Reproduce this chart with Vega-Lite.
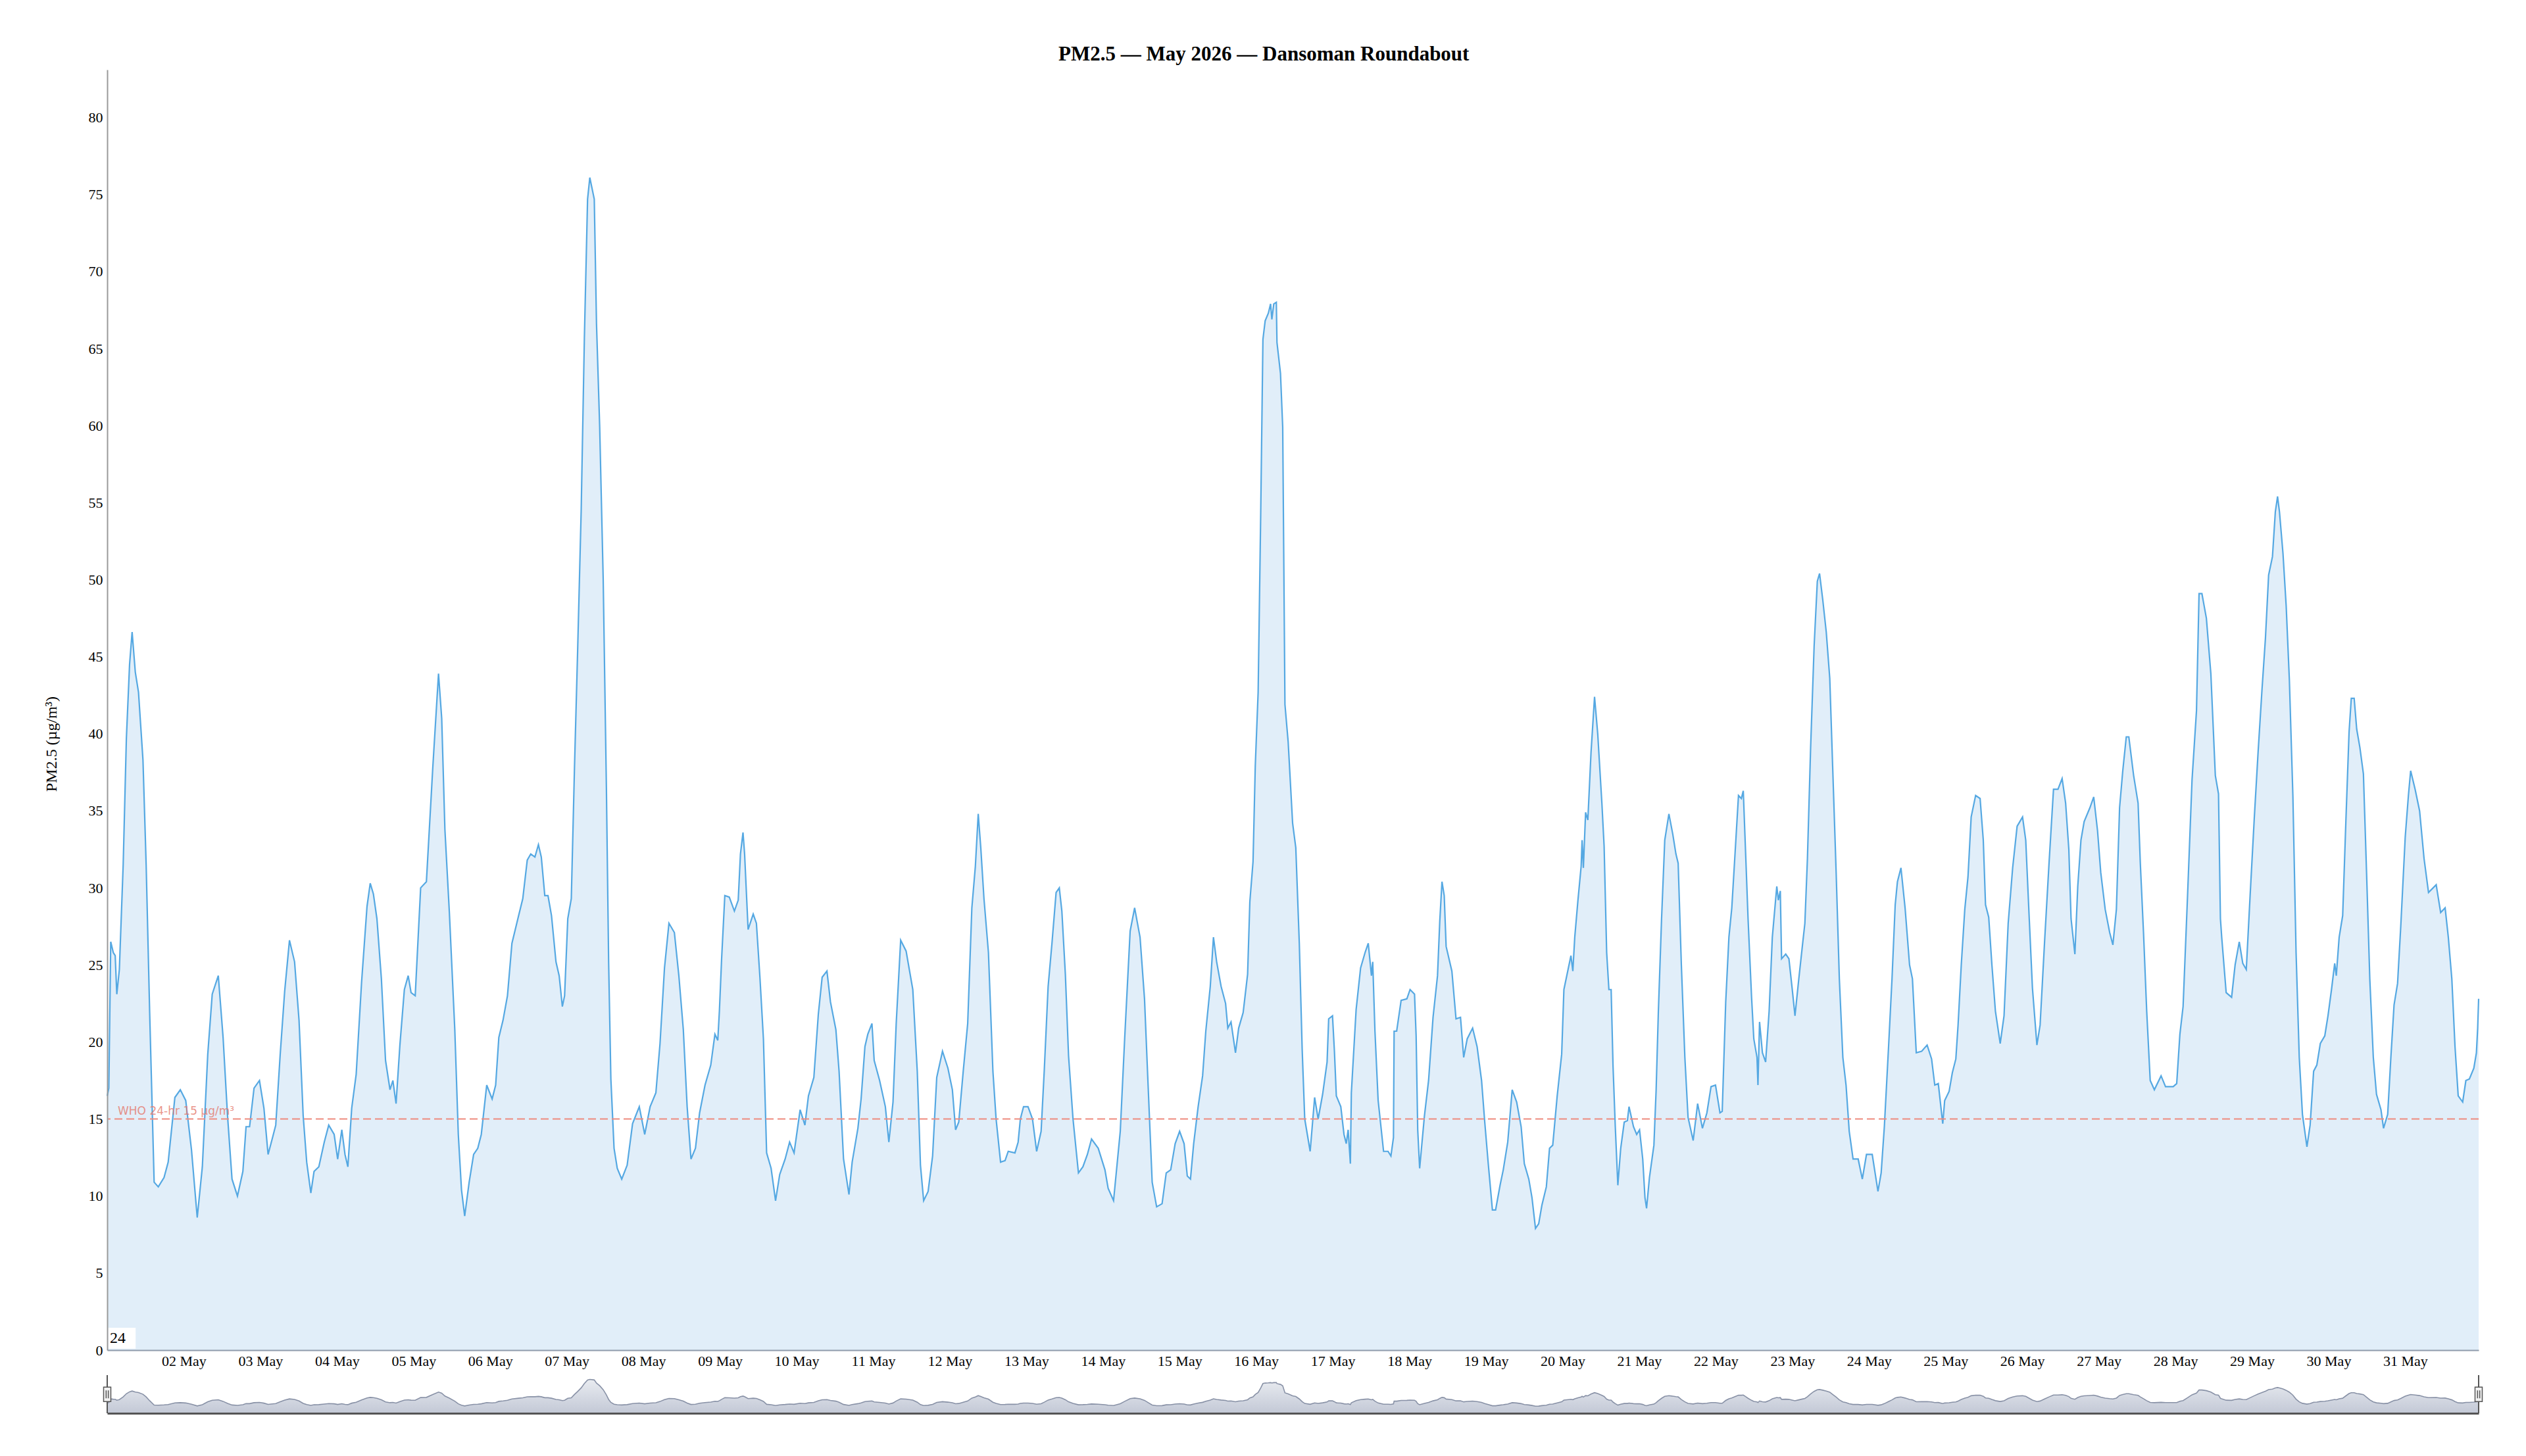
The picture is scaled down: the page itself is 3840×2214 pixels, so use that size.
{
  "$schema": "https://vega.github.io/schema/vega-lite/v6.json",
  "padding": {"left": 66, "top": 67, "right": 70, "bottom": 40},
  "title": {
    "text": "PM2.5 — May 2026 — Dansoman Roundabout",
    "font": "Liberation Serif",
    "fontSize": 31,
    "fontWeight": "bold",
    "color": "#000",
    "anchor": "middle",
    "offset": 7
  },
  "spacing": 10,
  "datasets": {
    "pm": [
      {"t":"2026-05-01T00:00","v":16.5},{"t":"2026-05-01T00:30","v":17.0},{"t":"2026-05-01T01:06","v":26.5},{"t":"2026-05-01T01:54","v":25.8},
      {"t":"2026-05-01T02:30","v":25.6},{"t":"2026-05-01T03:00","v":23.1},{"t":"2026-05-01T03:48","v":24.7},{"t":"2026-05-01T05:00","v":31.5},
      {"t":"2026-05-01T06:00","v":39.7},{"t":"2026-05-01T07:00","v":44.5},{"t":"2026-05-01T07:48","v":46.6},{"t":"2026-05-01T08:48","v":44.0},
      {"t":"2026-05-01T09:48","v":42.7},{"t":"2026-05-01T11:12","v":38.3},{"t":"2026-05-01T12:12","v":31.5},{"t":"2026-05-01T13:18","v":21.9},
      {"t":"2026-05-01T14:42","v":10.9},{"t":"2026-05-01T16:00","v":10.6},{"t":"2026-05-01T17:48","v":11.2},{"t":"2026-05-01T19:06","v":12.2},
      {"t":"2026-05-01T21:12","v":16.4},{"t":"2026-05-01T22:54","v":16.9},{"t":"2026-05-02T00:36","v":16.2},{"t":"2026-05-02T02:24","v":13.0},
      {"t":"2026-05-02T04:12","v":8.6},{"t":"2026-05-02T05:48","v":11.9},{"t":"2026-05-02T07:30","v":19.2},{"t":"2026-05-02T08:54","v":23.1},
      {"t":"2026-05-02T10:48","v":24.3},{"t":"2026-05-02T12:18","v":20.3},{"t":"2026-05-02T13:42","v":15.2},{"t":"2026-05-02T15:06","v":11.1},
      {"t":"2026-05-02T16:48","v":10.0},{"t":"2026-05-02T18:30","v":11.6},{"t":"2026-05-02T19:30","v":14.5},{"t":"2026-05-02T20:36","v":14.5},
      {"t":"2026-05-02T22:00","v":17.0},{"t":"2026-05-02T23:42","v":17.5},{"t":"2026-05-03T01:06","v":15.7},{"t":"2026-05-03T02:24","v":12.7},
      {"t":"2026-05-03T03:48","v":13.8},{"t":"2026-05-03T04:48","v":14.6},{"t":"2026-05-03T06:12","v":19.2},{"t":"2026-05-03T07:36","v":23.3},
      {"t":"2026-05-03T09:06","v":26.6},{"t":"2026-05-03T10:42","v":25.2},{"t":"2026-05-03T12:06","v":21.4},{"t":"2026-05-03T13:24","v":15.2},
      {"t":"2026-05-03T14:30","v":12.2},{"t":"2026-05-03T15:48","v":10.2},{"t":"2026-05-03T16:48","v":11.6},{"t":"2026-05-03T18:18","v":11.9},
      {"t":"2026-05-03T20:00","v":13.5},{"t":"2026-05-03T21:24","v":14.6},{"t":"2026-05-03T23:06","v":14.0},{"t":"2026-05-04T00:12","v":12.4},
      {"t":"2026-05-04T01:30","v":14.3},{"t":"2026-05-04T02:30","v":12.7},{"t":"2026-05-04T03:24","v":11.9},{"t":"2026-05-04T04:36","v":15.7},
      {"t":"2026-05-04T06:00","v":17.9},{"t":"2026-05-04T07:42","v":23.9},{"t":"2026-05-04T09:24","v":28.8},{"t":"2026-05-04T10:24","v":30.3},
      {"t":"2026-05-04T11:24","v":29.6},{"t":"2026-05-04T12:30","v":28.0},{"t":"2026-05-04T13:54","v":24.1},{"t":"2026-05-04T15:12","v":18.8},
      {"t":"2026-05-04T16:36","v":16.9},{"t":"2026-05-04T17:30","v":17.5},{"t":"2026-05-04T18:30","v":16.0},{"t":"2026-05-04T19:42","v":19.8},
      {"t":"2026-05-04T21:06","v":23.4},{"t":"2026-05-04T22:18","v":24.3},{"t":"2026-05-04T23:12","v":23.2},{"t":"2026-05-05T00:30","v":23.0},
      {"t":"2026-05-05T02:12","v":30.0},{"t":"2026-05-05T04:00","v":30.4},{"t":"2026-05-05T06:00","v":37.8},{"t":"2026-05-05T07:48","v":43.9},
      {"t":"2026-05-05T08:48","v":41.0},{"t":"2026-05-05T09:48","v":33.8},{"t":"2026-05-05T11:12","v":28.4},{"t":"2026-05-05T12:54","v":20.8},
      {"t":"2026-05-05T14:00","v":14.0},{"t":"2026-05-05T15:00","v":10.4},{"t":"2026-05-05T16:00","v":8.7},{"t":"2026-05-05T17:24","v":10.9},
      {"t":"2026-05-05T18:48","v":12.7},{"t":"2026-05-05T20:06","v":13.1},{"t":"2026-05-05T21:12","v":14.0},{"t":"2026-05-05T22:54","v":17.2},
      {"t":"2026-05-06T00:36","v":16.3},{"t":"2026-05-06T01:42","v":17.2},{"t":"2026-05-06T02:42","v":20.3},{"t":"2026-05-06T04:00","v":21.4},
      {"t":"2026-05-06T05:24","v":23.0},{"t":"2026-05-06T06:48","v":26.4},{"t":"2026-05-06T08:54","v":28.2},{"t":"2026-05-06T10:12","v":29.3},
      {"t":"2026-05-06T11:36","v":31.8},{"t":"2026-05-06T12:42","v":32.2},{"t":"2026-05-06T14:00","v":32.0},{"t":"2026-05-06T15:06","v":32.8},
      {"t":"2026-05-06T16:00","v":32.0},{"t":"2026-05-06T17:06","v":29.5},{"t":"2026-05-06T18:06","v":29.5},{"t":"2026-05-06T19:12","v":28.2},
      {"t":"2026-05-06T20:36","v":25.2},{"t":"2026-05-06T21:36","v":24.3},{"t":"2026-05-06T22:36","v":22.3},{"t":"2026-05-06T23:18","v":23.0},
      {"t":"2026-05-07T00:18","v":28.0},{"t":"2026-05-07T01:24","v":29.3},{"t":"2026-05-07T02:24","v":37.8},{"t":"2026-05-07T03:24","v":45.5},
      {"t":"2026-05-07T04:30","v":54.5},{"t":"2026-05-07T05:30","v":65.7},{"t":"2026-05-07T06:30","v":74.7},{"t":"2026-05-07T07:12","v":76.1},
      {"t":"2026-05-07T08:36","v":74.7},{"t":"2026-05-07T09:18","v":66.6},{"t":"2026-05-07T10:18","v":59.9},{"t":"2026-05-07T11:24","v":50.0},
      {"t":"2026-05-07T12:24","v":36.5},{"t":"2026-05-07T13:06","v":25.2},{"t":"2026-05-07T13:48","v":17.6},{"t":"2026-05-07T14:48","v":13.1},
      {"t":"2026-05-07T15:48","v":11.8},{"t":"2026-05-07T17:12","v":11.1},{"t":"2026-05-07T18:54","v":12.0},{"t":"2026-05-07T20:36","v":14.7},
      {"t":"2026-05-07T22:42","v":15.8},{"t":"2026-05-08T00:24","v":14.0},{"t":"2026-05-08T02:06","v":15.8},{"t":"2026-05-08T03:54","v":16.7},
      {"t":"2026-05-08T05:12","v":19.9},{"t":"2026-05-08T06:36","v":24.8},{"t":"2026-05-08T08:00","v":27.7},{"t":"2026-05-08T09:42","v":27.1},
      {"t":"2026-05-08T11:06","v":24.3},{"t":"2026-05-08T12:30","v":20.8},{"t":"2026-05-08T13:42","v":15.8},{"t":"2026-05-08T14:54","v":12.4},
      {"t":"2026-05-08T16:18","v":13.1},{"t":"2026-05-08T17:36","v":15.4},{"t":"2026-05-08T19:18","v":17.2},{"t":"2026-05-08T21:06","v":18.5},
      {"t":"2026-05-08T22:24","v":20.5},{"t":"2026-05-08T23:18","v":20.1},{"t":"2026-05-08T23:48","v":22.0},{"t":"2026-05-09T00:30","v":25.4},
      {"t":"2026-05-09T01:30","v":29.5},{"t":"2026-05-09T02:54","v":29.4},{"t":"2026-05-09T04:30","v":28.5},{"t":"2026-05-09T05:42","v":29.2},
      {"t":"2026-05-09T06:24","v":32.2},{"t":"2026-05-09T07:12","v":33.6},{"t":"2026-05-09T07:42","v":32.2},{"t":"2026-05-09T08:48","v":27.3},
      {"t":"2026-05-09T10:24","v":28.3},{"t":"2026-05-09T11:24","v":27.7},{"t":"2026-05-09T12:30","v":24.2},{"t":"2026-05-09T13:36","v":20.2},
      {"t":"2026-05-09T14:36","v":12.8},{"t":"2026-05-09T16:00","v":11.8},{"t":"2026-05-09T17:24","v":9.7},{"t":"2026-05-09T18:42","v":11.4},
      {"t":"2026-05-09T20:24","v":12.4},{"t":"2026-05-09T21:48","v":13.5},{"t":"2026-05-09T23:12","v":12.8},{"t":"2026-05-10T01:06","v":15.6},
      {"t":"2026-05-10T02:36","v":14.6},{"t":"2026-05-10T03:42","v":16.5},{"t":"2026-05-10T05:24","v":17.7},{"t":"2026-05-10T06:48","v":21.8},
      {"t":"2026-05-10T08:00","v":24.2},{"t":"2026-05-10T09:30","v":24.6},{"t":"2026-05-10T10:36","v":22.6},{"t":"2026-05-10T12:18","v":20.8},
      {"t":"2026-05-10T13:18","v":18.1},{"t":"2026-05-10T14:42","v":12.4},{"t":"2026-05-10T16:24","v":10.1},{"t":"2026-05-10T17:24","v":12.2},
      {"t":"2026-05-10T19:12","v":14.4},{"t":"2026-05-10T20:12","v":16.3},{"t":"2026-05-10T21:24","v":19.7},{"t":"2026-05-10T22:18","v":20.5},
      {"t":"2026-05-10T23:36","v":21.2},{"t":"2026-05-11T00:18","v":18.8},{"t":"2026-05-11T02:00","v":17.5},{"t":"2026-05-11T03:48","v":15.8},
      {"t":"2026-05-11T04:54","v":13.5},{"t":"2026-05-11T06:12","v":16.1},{"t":"2026-05-11T07:12","v":21.2},{"t":"2026-05-11T08:36","v":26.6},
      {"t":"2026-05-11T10:18","v":25.9},{"t":"2026-05-11T12:24","v":23.4},{"t":"2026-05-11T13:48","v":18.1},{"t":"2026-05-11T14:48","v":12.0},
      {"t":"2026-05-11T15:48","v":9.7},{"t":"2026-05-11T17:12","v":10.3},{"t":"2026-05-11T18:36","v":12.6},{"t":"2026-05-11T19:54","v":17.7},
      {"t":"2026-05-11T21:42","v":19.4},{"t":"2026-05-11T23:24","v":18.3},{"t":"2026-05-12T00:48","v":16.9},{"t":"2026-05-12T01:48","v":14.3},
      {"t":"2026-05-12T02:48","v":14.8},{"t":"2026-05-12T04:12","v":18.1},{"t":"2026-05-12T05:36","v":21.2},{"t":"2026-05-12T06:54","v":28.7},
      {"t":"2026-05-12T08:00","v":31.4},{"t":"2026-05-12T08:54","v":34.8},{"t":"2026-05-12T09:42","v":32.6},{"t":"2026-05-12T10:42","v":29.3},
      {"t":"2026-05-12T12:06","v":25.8},{"t":"2026-05-12T13:30","v":18.1},{"t":"2026-05-12T14:30","v":15.0},{"t":"2026-05-12T15:54","v":12.2},
      {"t":"2026-05-12T17:18","v":12.3},{"t":"2026-05-12T18:18","v":12.9},{"t":"2026-05-12T20:24","v":12.8},{"t":"2026-05-12T21:24","v":13.5},
      {"t":"2026-05-12T22:06","v":15.0},{"t":"2026-05-12T23:06","v":15.8},{"t":"2026-05-13T00:30","v":15.8},{"t":"2026-05-13T01:54","v":15.0},
      {"t":"2026-05-13T03:12","v":12.9},{"t":"2026-05-13T04:36","v":14.2},{"t":"2026-05-13T05:36","v":18.2},{"t":"2026-05-13T06:48","v":23.6},
      {"t":"2026-05-13T08:00","v":26.4},{"t":"2026-05-13T09:18","v":29.7},{"t":"2026-05-13T10:18","v":30.0},{"t":"2026-05-13T11:06","v":28.5},
      {"t":"2026-05-13T12:12","v":24.4},{"t":"2026-05-13T13:12","v":19.1},{"t":"2026-05-13T14:36","v":15.0},{"t":"2026-05-13T16:18","v":11.5},
      {"t":"2026-05-13T17:42","v":11.9},{"t":"2026-05-13T19:06","v":12.7},{"t":"2026-05-13T20:24","v":13.7},{"t":"2026-05-13T22:30","v":13.1},
      {"t":"2026-05-14T00:36","v":11.7},{"t":"2026-05-14T01:36","v":10.5},{"t":"2026-05-14T03:18","v":9.7},{"t":"2026-05-14T05:24","v":14.2},
      {"t":"2026-05-14T06:48","v":20.3},{"t":"2026-05-14T08:30","v":27.2},{"t":"2026-05-14T09:54","v":28.7},{"t":"2026-05-14T11:36","v":26.8},
      {"t":"2026-05-14T13:00","v":22.8},{"t":"2026-05-14T14:00","v":17.8},{"t":"2026-05-14T15:24","v":10.9},{"t":"2026-05-14T16:48","v":9.3},
      {"t":"2026-05-14T18:30","v":9.5},{"t":"2026-05-14T19:48","v":11.5},{"t":"2026-05-14T21:12","v":11.7},{"t":"2026-05-14T22:36","v":13.4},
      {"t":"2026-05-15T00:00","v":14.2},{"t":"2026-05-15T01:24","v":13.4},{"t":"2026-05-15T02:24","v":11.3},{"t":"2026-05-15T03:24","v":11.1},
      {"t":"2026-05-15T04:24","v":13.4},{"t":"2026-05-15T05:48","v":15.8},{"t":"2026-05-15T07:12","v":17.8},{"t":"2026-05-15T08:12","v":20.7},
      {"t":"2026-05-15T09:36","v":23.6},{"t":"2026-05-15T10:36","v":26.8},{"t":"2026-05-15T11:36","v":25.2},{"t":"2026-05-15T13:00","v":23.6},
      {"t":"2026-05-15T14:24","v":22.5},{"t":"2026-05-15T15:06","v":20.9},{"t":"2026-05-15T16:06","v":21.3},{"t":"2026-05-15T17:30","v":19.3},
      {"t":"2026-05-15T18:30","v":20.9},{"t":"2026-05-15T19:54","v":21.9},{"t":"2026-05-15T21:18","v":24.4},{"t":"2026-05-15T22:00","v":29.1},
      {"t":"2026-05-15T23:00","v":31.7},{"t":"2026-05-15T23:42","v":37.9},{"t":"2026-05-16T00:36","v":42.7},{"t":"2026-05-16T01:24","v":54.2},
      {"t":"2026-05-16T02:06","v":65.6},{"t":"2026-05-16T02:48","v":66.8},{"t":"2026-05-16T03:48","v":67.3},{"t":"2026-05-16T04:30","v":67.9},
      {"t":"2026-05-16T04:54","v":66.9},{"t":"2026-05-16T05:30","v":67.9},{"t":"2026-05-16T06:18","v":68.0},{"t":"2026-05-16T06:30","v":65.4},
      {"t":"2026-05-16T07:36","v":63.4},{"t":"2026-05-16T08:18","v":59.9},{"t":"2026-05-16T09:00","v":41.9},{"t":"2026-05-16T10:00","v":39.5},
      {"t":"2026-05-16T11:24","v":34.2},{"t":"2026-05-16T12:24","v":32.6},{"t":"2026-05-16T13:30","v":26.4},{"t":"2026-05-16T14:24","v":19.5},
      {"t":"2026-05-16T15:12","v":15.0},{"t":"2026-05-16T16:54","v":12.9},{"t":"2026-05-16T18:18","v":16.4},{"t":"2026-05-16T19:24","v":15.0},
      {"t":"2026-05-16T20:48","v":16.6},{"t":"2026-05-16T22:12","v":18.7},{"t":"2026-05-16T22:42","v":21.5},{"t":"2026-05-16T23:54","v":21.7},
      {"t":"2026-05-17T00:30","v":19.4},{"t":"2026-05-17T01:06","v":16.5},{"t":"2026-05-17T02:30","v":15.8},{"t":"2026-05-17T03:30","v":14.0},
      {"t":"2026-05-17T04:12","v":13.4},{"t":"2026-05-17T04:48","v":14.3},{"t":"2026-05-17T05:30","v":12.1},{"t":"2026-05-17T05:48","v":16.7},
      {"t":"2026-05-17T07:18","v":22.1},{"t":"2026-05-17T08:42","v":24.8},{"t":"2026-05-17T10:06","v":25.8},{"t":"2026-05-17T11:06","v":26.4},
      {"t":"2026-05-17T12:06","v":24.3},{"t":"2026-05-17T12:30","v":25.2},{"t":"2026-05-17T13:12","v":20.7},{"t":"2026-05-17T14:12","v":16.2},
      {"t":"2026-05-17T15:54","v":12.9},{"t":"2026-05-17T17:18","v":12.9},{"t":"2026-05-17T18:12","v":12.6},{"t":"2026-05-17T19:00","v":13.8},
      {"t":"2026-05-17T19:12","v":20.7},{"t":"2026-05-17T20:00","v":20.7},{"t":"2026-05-17T21:24","v":22.7},{"t":"2026-05-17T23:12","v":22.8},
      {"t":"2026-05-18T00:12","v":23.4},{"t":"2026-05-18T01:36","v":23.1},{"t":"2026-05-18T02:06","v":20.4},{"t":"2026-05-18T02:36","v":14.3},
      {"t":"2026-05-18T03:12","v":11.8},{"t":"2026-05-18T04:42","v":15.2},{"t":"2026-05-18T06:00","v":17.5},{"t":"2026-05-18T07:24","v":21.6},
      {"t":"2026-05-18T08:48","v":24.3},{"t":"2026-05-18T09:30","v":27.8},{"t":"2026-05-18T10:12","v":30.4},{"t":"2026-05-18T10:54","v":29.5},
      {"t":"2026-05-18T11:30","v":26.2},{"t":"2026-05-18T13:18","v":24.6},{"t":"2026-05-18T14:36","v":21.5},{"t":"2026-05-18T16:00","v":21.6},
      {"t":"2026-05-18T17:00","v":19.0},{"t":"2026-05-18T18:06","v":20.2},{"t":"2026-05-18T19:48","v":20.9},{"t":"2026-05-18T21:12","v":19.7},
      {"t":"2026-05-18T22:36","v":17.5},{"t":"2026-05-18T23:36","v":14.8},{"t":"2026-05-19T00:42","v":12.1},{"t":"2026-05-19T02:00","v":9.1},
      {"t":"2026-05-19T03:00","v":9.1},{"t":"2026-05-19T04:24","v":10.7},{"t":"2026-05-19T05:24","v":11.7},{"t":"2026-05-19T06:48","v":13.5},
      {"t":"2026-05-19T08:12","v":16.9},{"t":"2026-05-19T09:36","v":16.1},{"t":"2026-05-19T11:00","v":14.5},{"t":"2026-05-19T12:00","v":12.1},
      {"t":"2026-05-19T13:24","v":11.1},{"t":"2026-05-19T14:24","v":9.9},{"t":"2026-05-19T15:30","v":7.9},{"t":"2026-05-19T16:30","v":8.2},
      {"t":"2026-05-19T17:30","v":9.4},{"t":"2026-05-19T18:54","v":10.6},{"t":"2026-05-19T19:54","v":13.1},{"t":"2026-05-19T20:54","v":13.3},
      {"t":"2026-05-19T22:18","v":16.5},{"t":"2026-05-19T23:42","v":19.2},{"t":"2026-05-20T00:24","v":23.4},{"t":"2026-05-20T01:48","v":24.8},
      {"t":"2026-05-20T02:36","v":25.6},{"t":"2026-05-20T03:12","v":24.6},{"t":"2026-05-20T03:48","v":26.8},{"t":"2026-05-20T04:48","v":29.2},
      {"t":"2026-05-20T05:48","v":31.4},{"t":"2026-05-20T06:06","v":33.1},{"t":"2026-05-20T06:30","v":31.3},{"t":"2026-05-20T07:12","v":34.9},
      {"t":"2026-05-20T07:54","v":34.4},{"t":"2026-05-20T08:54","v":38.8},{"t":"2026-05-20T10:00","v":42.4},{"t":"2026-05-20T11:00","v":40.0},
      {"t":"2026-05-20T12:18","v":35.5},{"t":"2026-05-20T13:00","v":32.7},{"t":"2026-05-20T13:48","v":25.8},{"t":"2026-05-20T14:30","v":23.4},
      {"t":"2026-05-20T15:12","v":23.4},{"t":"2026-05-20T15:48","v":18.4},{"t":"2026-05-20T16:30","v":14.5},{"t":"2026-05-20T17:18","v":10.7},
      {"t":"2026-05-20T18:12","v":13.1},{"t":"2026-05-20T19:18","v":14.8},{"t":"2026-05-20T20:18","v":14.9},{"t":"2026-05-20T20:48","v":15.8},
      {"t":"2026-05-20T22:12","v":14.5},{"t":"2026-05-20T23:12","v":14.0},{"t":"2026-05-21T00:06","v":14.3},{"t":"2026-05-21T01:06","v":12.4},
      {"t":"2026-05-21T01:48","v":9.9},{"t":"2026-05-21T02:18","v":9.2},{"t":"2026-05-21T03:12","v":11.2},{"t":"2026-05-21T04:36","v":13.3},
      {"t":"2026-05-21T05:18","v":16.9},{"t":"2026-05-21T06:00","v":22.0},{"t":"2026-05-21T07:00","v":28.0},{"t":"2026-05-21T08:00","v":33.1},
      {"t":"2026-05-21T09:18","v":34.8},{"t":"2026-05-21T10:30","v":33.5},{"t":"2026-05-21T11:30","v":32.2},{"t":"2026-05-21T12:12","v":31.6},
      {"t":"2026-05-21T13:12","v":25.0},{"t":"2026-05-21T14:18","v":19.0},{"t":"2026-05-21T15:18","v":15.1},{"t":"2026-05-21T16:54","v":13.6},
      {"t":"2026-05-21T18:18","v":16.0},{"t":"2026-05-21T19:48","v":14.4},{"t":"2026-05-21T21:12","v":15.4},{"t":"2026-05-21T22:30","v":17.1},
      {"t":"2026-05-21T23:54","v":17.2},{"t":"2026-05-22T01:18","v":15.4},{"t":"2026-05-22T02:00","v":15.5},{"t":"2026-05-22T03:06","v":22.6},
      {"t":"2026-05-22T04:06","v":26.8},{"t":"2026-05-22T05:00","v":28.7},{"t":"2026-05-22T06:06","v":32.5},{"t":"2026-05-22T07:06","v":36.0},
      {"t":"2026-05-22T08:00","v":35.8},{"t":"2026-05-22T08:36","v":36.3},{"t":"2026-05-22T09:24","v":31.9},{"t":"2026-05-22T10:06","v":28.0},
      {"t":"2026-05-22T11:12","v":22.9},{"t":"2026-05-22T11:54","v":20.2},{"t":"2026-05-22T12:54","v":19.0},{"t":"2026-05-22T13:12","v":17.2},
      {"t":"2026-05-22T13:42","v":21.3},{"t":"2026-05-22T14:36","v":19.3},{"t":"2026-05-22T15:36","v":18.7},{"t":"2026-05-22T16:42","v":22.0},
      {"t":"2026-05-22T17:42","v":26.8},{"t":"2026-05-22T19:06","v":30.1},{"t":"2026-05-22T19:36","v":29.2},{"t":"2026-05-22T20:12","v":29.8},
      {"t":"2026-05-22T20:36","v":25.4},{"t":"2026-05-22T21:54","v":25.7},{"t":"2026-05-22T22:54","v":25.4},{"t":"2026-05-22T23:54","v":23.5},
      {"t":"2026-05-23T00:48","v":21.7},{"t":"2026-05-23T02:00","v":24.1},{"t":"2026-05-23T03:06","v":26.2},{"t":"2026-05-23T03:54","v":27.7},
      {"t":"2026-05-23T04:42","v":31.9},{"t":"2026-05-23T05:42","v":39.1},{"t":"2026-05-23T06:48","v":45.7},{"t":"2026-05-23T07:48","v":49.9},
      {"t":"2026-05-23T08:30","v":50.4},{"t":"2026-05-23T09:30","v":48.7},{"t":"2026-05-23T10:36","v":46.6},{"t":"2026-05-23T11:42","v":43.6},
      {"t":"2026-05-23T12:36","v":37.9},{"t":"2026-05-23T13:42","v":31.0},{"t":"2026-05-23T14:42","v":24.1},{"t":"2026-05-23T15:48","v":19.0},
      {"t":"2026-05-23T16:48","v":17.2},{"t":"2026-05-23T17:48","v":14.2},{"t":"2026-05-23T19:00","v":12.4},{"t":"2026-05-23T20:36","v":12.4},
      {"t":"2026-05-23T21:54","v":11.1},{"t":"2026-05-23T23:12","v":12.7},{"t":"2026-05-24T01:00","v":12.7},{"t":"2026-05-24T02:48","v":10.3},
      {"t":"2026-05-24T03:48","v":11.5},{"t":"2026-05-24T04:48","v":14.5},{"t":"2026-05-24T06:06","v":19.6},{"t":"2026-05-24T07:12","v":24.1},
      {"t":"2026-05-24T08:12","v":28.9},{"t":"2026-05-24T08:54","v":30.4},{"t":"2026-05-24T10:00","v":31.3},{"t":"2026-05-24T11:18","v":28.7},
      {"t":"2026-05-24T12:42","v":25.0},{"t":"2026-05-24T13:36","v":24.1},{"t":"2026-05-24T14:48","v":19.3},{"t":"2026-05-24T16:30","v":19.4},
      {"t":"2026-05-24T18:12","v":19.8},{"t":"2026-05-24T19:36","v":18.9},{"t":"2026-05-24T20:36","v":17.2},{"t":"2026-05-24T21:42","v":17.3},
      {"t":"2026-05-24T23:06","v":14.7},{"t":"2026-05-24T23:42","v":16.2},{"t":"2026-05-25T01:06","v":16.8},{"t":"2026-05-25T02:06","v":18.0},
      {"t":"2026-05-25T03:12","v":18.9},{"t":"2026-05-25T03:54","v":21.1},{"t":"2026-05-25T04:54","v":25.0},{"t":"2026-05-25T06:00","v":28.6},
      {"t":"2026-05-25T07:00","v":30.7},{"t":"2026-05-25T08:00","v":34.6},{"t":"2026-05-25T09:24","v":36.0},{"t":"2026-05-25T10:48","v":35.8},
      {"t":"2026-05-25T11:48","v":33.1},{"t":"2026-05-25T12:30","v":28.9},{"t":"2026-05-25T13:30","v":28.1},{"t":"2026-05-25T14:30","v":25.0},
      {"t":"2026-05-25T15:36","v":22.0},{"t":"2026-05-25T17:06","v":19.9},{"t":"2026-05-25T18:18","v":21.7},{"t":"2026-05-25T19:36","v":27.7},
      {"t":"2026-05-25T21:00","v":31.3},{"t":"2026-05-25T22:24","v":34.0},{"t":"2026-05-26T00:06","v":34.6},{"t":"2026-05-26T01:06","v":33.1},
      {"t":"2026-05-26T02:12","v":28.0},{"t":"2026-05-26T03:12","v":23.5},{"t":"2026-05-26T04:36","v":19.8},{"t":"2026-05-26T05:36","v":21.1},
      {"t":"2026-05-26T07:00","v":26.5},{"t":"2026-05-26T08:24","v":31.6},{"t":"2026-05-26T09:48","v":36.4},{"t":"2026-05-26T11:12","v":36.4},
      {"t":"2026-05-26T12:30","v":37.1},{"t":"2026-05-26T13:36","v":35.5},{"t":"2026-05-26T14:36","v":32.5},{"t":"2026-05-26T15:18","v":28.0},
      {"t":"2026-05-26T16:30","v":25.7},{"t":"2026-05-26T17:24","v":30.1},{"t":"2026-05-26T18:24","v":33.1},{"t":"2026-05-26T19:24","v":34.3},
      {"t":"2026-05-26T21:12","v":35.2},{"t":"2026-05-26T22:24","v":35.9},{"t":"2026-05-26T23:36","v":33.7},{"t":"2026-05-27T00:36","v":31.0},
      {"t":"2026-05-27T02:00","v":28.6},{"t":"2026-05-27T03:24","v":27.1},{"t":"2026-05-27T04:24","v":26.3},{"t":"2026-05-27T05:30","v":28.6},
      {"t":"2026-05-27T06:30","v":35.2},{"t":"2026-05-27T07:30","v":37.6},{"t":"2026-05-27T08:36","v":39.8},{"t":"2026-05-27T09:24","v":39.8},
      {"t":"2026-05-27T10:54","v":37.3},{"t":"2026-05-27T12:18","v":35.5},{"t":"2026-05-27T13:00","v":31.6},{"t":"2026-05-27T14:00","v":27.1},
      {"t":"2026-05-27T15:00","v":22.0},{"t":"2026-05-27T16:06","v":17.5},{"t":"2026-05-27T17:24","v":16.9},{"t":"2026-05-27T19:30","v":17.8},
      {"t":"2026-05-27T20:54","v":17.1},{"t":"2026-05-27T23:18","v":17.1},{"t":"2026-05-28T00:24","v":17.3},{"t":"2026-05-28T01:24","v":20.5},
      {"t":"2026-05-28T02:24","v":22.3},{"t":"2026-05-28T03:48","v":29.5},{"t":"2026-05-28T05:12","v":37.0},{"t":"2026-05-28T06:36","v":41.5},
      {"t":"2026-05-28T07:24","v":49.1},{"t":"2026-05-28T08:18","v":49.1},{"t":"2026-05-28T09:42","v":47.5},{"t":"2026-05-28T11:06","v":43.9},
      {"t":"2026-05-28T12:30","v":37.3},{"t":"2026-05-28T13:30","v":36.1},{"t":"2026-05-28T14:06","v":28.0},{"t":"2026-05-28T14:30","v":26.8},
      {"t":"2026-05-28T15:54","v":23.2},{"t":"2026-05-28T17:36","v":22.9},{"t":"2026-05-28T18:42","v":25.0},{"t":"2026-05-28T20:00","v":26.5},
      {"t":"2026-05-28T21:06","v":25.1},{"t":"2026-05-28T22:12","v":24.7},{"t":"2026-05-28T23:24","v":29.5},{"t":"2026-05-29T00:42","v":34.5},
      {"t":"2026-05-29T01:54","v":38.8},{"t":"2026-05-29T03:06","v":42.8},{"t":"2026-05-29T04:12","v":46.2},{"t":"2026-05-29T05:12","v":50.3},
      {"t":"2026-05-29T06:24","v":51.5},{"t":"2026-05-29T07:18","v":54.4},{"t":"2026-05-29T08:00","v":55.4},{"t":"2026-05-29T08:36","v":54.4},
      {"t":"2026-05-29T09:42","v":51.7},{"t":"2026-05-29T10:42","v":48.3},{"t":"2026-05-29T11:42","v":43.5},{"t":"2026-05-29T12:48","v":36.0},
      {"t":"2026-05-29T13:48","v":25.8},{"t":"2026-05-29T14:48","v":19.0},{"t":"2026-05-29T15:48","v":15.3},{"t":"2026-05-29T17:12","v":13.2},
      {"t":"2026-05-29T18:12","v":14.6},{"t":"2026-05-29T19:18","v":18.1},{"t":"2026-05-29T20:18","v":18.5},{"t":"2026-05-29T21:24","v":19.9},
      {"t":"2026-05-29T22:48","v":20.4},{"t":"2026-05-29T23:48","v":21.7},{"t":"2026-05-30T00:54","v":23.4},{"t":"2026-05-30T01:54","v":25.1},
      {"t":"2026-05-30T02:24","v":24.3},{"t":"2026-05-30T03:18","v":26.8},{"t":"2026-05-30T04:24","v":28.2},{"t":"2026-05-30T05:24","v":34.3},
      {"t":"2026-05-30T06:24","v":40.1},{"t":"2026-05-30T07:06","v":42.3},{"t":"2026-05-30T08:00","v":42.3},{"t":"2026-05-30T08:48","v":40.3},
      {"t":"2026-05-30T09:48","v":39.1},{"t":"2026-05-30T10:54","v":37.4},{"t":"2026-05-30T11:54","v":30.9},{"t":"2026-05-30T12:54","v":24.1},
      {"t":"2026-05-30T14:00","v":19.0},{"t":"2026-05-30T15:00","v":16.6},{"t":"2026-05-30T16:24","v":15.6},{"t":"2026-05-30T17:12","v":14.4},
      {"t":"2026-05-30T18:30","v":15.3},{"t":"2026-05-30T19:30","v":19.0},{"t":"2026-05-30T20:30","v":22.4},{"t":"2026-05-30T21:36","v":23.8},
      {"t":"2026-05-30T22:36","v":27.5},{"t":"2026-05-31T00:00","v":33.3},{"t":"2026-05-31T01:00","v":36.0},{"t":"2026-05-31T01:42","v":37.6},
      {"t":"2026-05-31T03:06","v":36.4},{"t":"2026-05-31T04:30","v":35.0},{"t":"2026-05-31T05:54","v":31.9},{"t":"2026-05-31T07:18","v":29.7},
      {"t":"2026-05-31T09:42","v":30.2},{"t":"2026-05-31T11:06","v":28.4},{"t":"2026-05-31T12:30","v":28.7},{"t":"2026-05-31T13:30","v":26.8},
      {"t":"2026-05-31T14:36","v":24.1},{"t":"2026-05-31T15:36","v":19.7},{"t":"2026-05-31T16:36","v":16.5},{"t":"2026-05-31T18:00","v":16.1},
      {"t":"2026-05-31T19:00","v":17.5},{"t":"2026-05-31T20:06","v":17.6},{"t":"2026-05-31T21:30","v":18.3},{"t":"2026-05-31T22:18","v":19.3},
      {"t":"2026-05-31T22:42","v":20.9},{"t":"2026-05-31T23:00","v":22.8}
    ]
  },
  "vconcat": [
    {
      "width": 3605,
      "height": 1947,
      "layer": [
        {
          "data": {"name": "pm"},
          "mark": {"type": "area", "color": "#e1eef9", "opacity": 1},
          "encoding": {
            "x": {
              "field": "t",
              "type": "temporal",
              "axis": {
                "title": null,
                "values": [
                  {"year": 2026, "month": 5, "date": 2}, {"year": 2026, "month": 5, "date": 3}, {"year": 2026, "month": 5, "date": 4},
                  {"year": 2026, "month": 5, "date": 5}, {"year": 2026, "month": 5, "date": 6}, {"year": 2026, "month": 5, "date": 7},
                  {"year": 2026, "month": 5, "date": 8}, {"year": 2026, "month": 5, "date": 9}, {"year": 2026, "month": 5, "date": 10},
                  {"year": 2026, "month": 5, "date": 11}, {"year": 2026, "month": 5, "date": 12}, {"year": 2026, "month": 5, "date": 13},
                  {"year": 2026, "month": 5, "date": 14}, {"year": 2026, "month": 5, "date": 15}, {"year": 2026, "month": 5, "date": 16},
                  {"year": 2026, "month": 5, "date": 17}, {"year": 2026, "month": 5, "date": 18}, {"year": 2026, "month": 5, "date": 19},
                  {"year": 2026, "month": 5, "date": 20}, {"year": 2026, "month": 5, "date": 21}, {"year": 2026, "month": 5, "date": 22},
                  {"year": 2026, "month": 5, "date": 23}, {"year": 2026, "month": 5, "date": 24}, {"year": 2026, "month": 5, "date": 25},
                  {"year": 2026, "month": 5, "date": 26}, {"year": 2026, "month": 5, "date": 27}, {"year": 2026, "month": 5, "date": 28},
                  {"year": 2026, "month": 5, "date": 29}, {"year": 2026, "month": 5, "date": 30}, {"year": 2026, "month": 5, "date": 31}
                ],
                "format": "%d %b",
                "labelFont": "Liberation Serif",
                "labelFontSize": 22,
                "labelColor": "#000",
                "labelPadding": 6,
                "ticks": false,
                "grid": false,
                "domainColor": "#8f9bab",
                "domainWidth": 2,
                "zindex": 1
              }
            },
            "y": {
              "field": "v",
              "type": "quantitative",
              "scale": {"domain": [0, 83.1], "nice": false},
              "axis": {
                "title": "PM2.5 (µg/m³)",
                "titleFont": "Liberation Serif",
                "titleFontSize": 24,
                "titleFontWeight": "normal",
                "titleColor": "#000",
                "titlePadding": 44,
                "titleY": 1025,
                "values": [0, 5, 10, 15, 20, 25, 30, 35, 40, 45, 50, 55, 60, 65, 70, 75, 80],
                "labelFont": "Liberation Serif",
                "labelFontSize": 22,
                "labelColor": "#000",
                "labelPadding": 7,
                "ticks": false,
                "grid": false,
                "domainColor": "#999",
                "domainWidth": 2,
                "zindex": 1
              }
            }
          }
        },
        {
          "data": {"name": "pm"},
          "mark": {"type": "line", "color": "#55a8e2", "strokeWidth": 2.2},
          "encoding": {
            "x": {"field": "t", "type": "temporal"},
            "y": {"field": "v", "type": "quantitative"}
          }
        },
        {
          "data": {"values": [{"who": 15}]},
          "mark": {"type": "rule", "color": "#ee8a7e", "strokeWidth": 2, "strokeDash": [12, 6]},
          "encoding": {"y": {"field": "who", "type": "quantitative"}}
        },
        {
          "data": {"values": [{"t": "2026-05-01T03:18", "v": 15, "label": "WHO 24-hr 15 µg/m³"}]},
          "mark": {"type": "text", "align": "left", "baseline": "bottom", "dy": -3, "font": "DejaVu Sans", "fontSize": 17, "color": "#e57a6e", "opacity": 0.8},
          "encoding": {
            "x": {"field": "t", "type": "temporal"},
            "y": {"field": "v", "type": "quantitative"},
            "text": {"field": "label"}
          }
        },
        {
          "data": {"values": [{"t0": "2026-05-01T00:18", "t1": "2026-05-01T08:54", "y0": 0.1, "y1": 1.45}]},
          "mark": {"type": "rect", "color": "#ffffff"},
          "encoding": {
            "x": {"field": "t0", "type": "temporal"},
            "x2": {"field": "t1"},
            "y": {"field": "y0", "type": "quantitative"},
            "y2": {"field": "y1"}
          }
        },
        {
          "data": {"values": [{"t": "2026-05-01T00:48", "v": 0.75, "label": "24"}]},
          "mark": {"type": "text", "align": "left", "baseline": "middle", "font": "Liberation Serif", "fontSize": 24, "color": "#000"},
          "encoding": {
            "x": {"field": "t", "type": "temporal"},
            "y": {"field": "v", "type": "quantitative"},
            "text": {"field": "label"}
          }
        }
      ]
    },
    {
      "width": 3605,
      "height": 58,
      "layer": [
        {
          "data": {"name": "pm"},
          "mark": {
            "type": "area",
            "line": {"color": "#8891a6", "strokeWidth": 1.6},
            "color": {
              "gradient": "linear",
              "x1": 0, "y1": 1, "x2": 0, "y2": 0,
              "stops": [{"offset": 0, "color": "#a9b1c4"}, {"offset": 1, "color": "#dfe3ea"}]
            }
          },
          "encoding": {
            "x": {
              "field": "t",
              "type": "temporal",
              "axis": {"title": null, "labels": false, "ticks": false, "grid": false, "domainColor": "#555", "domainWidth": 3, "zindex": 1}
            },
            "y": {"field": "v", "type": "quantitative", "scale": {"domain": [-10, 87], "nice": false}, "axis": null},
            "y2": {"datum": -10}
          }
        },
        {
          "data": {"values": [{"t": "2026-05-01T00:00"}, {"t": "2026-05-31T23:00"}]},
          "mark": {"type": "rule", "color": "#555", "strokeWidth": 2},
          "encoding": {"x": {"field": "t", "type": "temporal"}}
        },
        {
          "data": {"values": [{"t": "2026-05-01T00:00", "v": 38}, {"t": "2026-05-31T23:00", "v": 38}]},
          "mark": {
            "type": "point",
            "shape": "M-0.5,-1H0.5V1H-0.5Z M-0.15,-0.55V0.55 M0.15,-0.55V0.55",
            "size": 484,
            "filled": false,
            "fill": "#f2f2f2",
            "fillOpacity": 1,
            "stroke": "#555",
            "strokeWidth": 1.5,
            "opacity": 1
          },
          "encoding": {
            "x": {"field": "t", "type": "temporal"},
            "y": {"field": "v", "type": "quantitative"}
          }
        }
      ]
    }
  ],
  "config": {
    "view": {"stroke": null},
    "font": "Liberation Serif"
  }
}
